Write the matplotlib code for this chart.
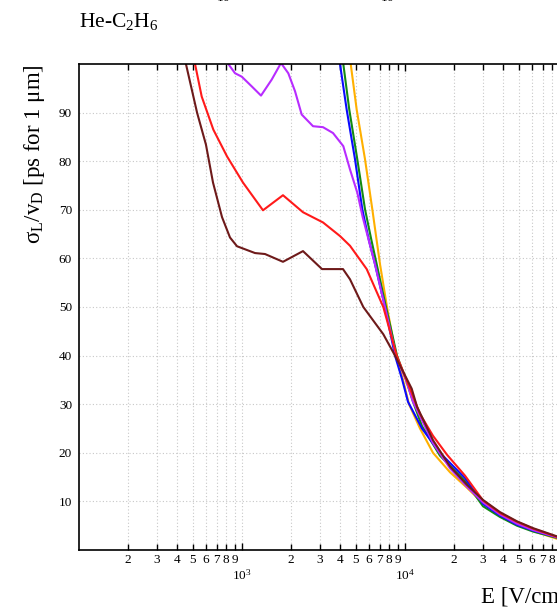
import math
import matplotlib
matplotlib.use("Agg")
import matplotlib.pyplot as plt
from matplotlib.ticker import FixedLocator, FuncFormatter, NullFormatter

plt.rcParams['font.family'] = ['Liberation Serif', 'DejaVu Serif']
plt.rcParams['mathtext.fontset'] = 'custom'
plt.rcParams['mathtext.rm'] = 'Liberation Serif'
plt.rcParams['mathtext.it'] = 'Liberation Serif:italic'

# sigma_L / v_D against drift field E, one curve per gas mixture
brown_E = [453, 530, 601, 664, 754, 844, 932, 1202, 1384, 1784, 2367, 3096, 4165, 4598, 5549,
           7359, 8683, 10993, 11846, 14852, 18885, 24013, 30100, 38254, 48650, 61000, 85600, 100000]
brown_s = [100, 90, 83.4, 75.6, 68.5, 64.3, 62.5, 61.1, 60.9, 59.3, 61.5, 57.8, 57.8, 55.7, 50,
           44.4, 40, 33.2, 29.5, 22.6, 17.2, 13.4, 10.3, 7.8, 5.9, 4.5, 2.8, 2.3]

red_E = [515, 566, 667, 809, 1014, 1345, 1784, 2367, 3140, 3992, 4598, 5821, 7359, 8894, 10732,
         12359, 14852, 18101, 23342, 30100, 38254, 48650, 61000, 85600, 100000]
red_s = [100, 93.3, 86.5, 81, 75.6, 69.9, 73, 69.5, 67.4, 64.6, 62.6, 57.8, 50, 40, 33.2,
         28, 23.5, 19.6, 15.3, 10.2, 7.6, 5.8, 4.4, 2.7, 2.3]

purple_E = [824, 906, 996, 1147, 1308, 1522, 1735, 1923, 2115, 2324, 2727, 3140, 3616, 4183, 4598,
            5100, 5500, 6546, 7537, 8806, 10141, 11197, 14852, 18885, 24013, 30100, 38254, 48650,
            61000, 85600, 100000]
purple_s = [100, 98.1, 97.4, 95.4, 93.5, 96.8, 100.2, 98.1, 94.4, 89.6, 87.2, 87.0, 85.8, 83.1, 78.3,
            73.5, 68.5, 58.8, 50, 40, 35, 30.5, 22, 16.8, 13, 9.8, 7.3, 5.4,
            4.1, 2.6, 2.1]

blue_E = [3992, 4388, 4935, 5470, 6000, 6546, 7537, 8683, 9585, 10432, 12710, 16394, 23342, 30100,
          38254, 48650, 61000, 85600, 100000]
blue_s = [100, 90.6, 80.4, 70.1, 63.8, 58.8, 50, 40, 35.2, 30.5, 25, 20, 14.8, 9.5,
          7.1, 5.2, 4.0, 2.6, 2.1]

green_E = [4183, 4552, 5097, 5684, 6200, 6705, 7644, 8930, 10141, 11197, 12710, 16394, 23342, 30100,
           38254, 48650, 61000, 85600, 100000]
green_s = [100, 90.6, 80.4, 70.1, 64.0, 58.8, 50, 40, 35, 30.5, 25.5, 19.4, 14.2, 9.0,
           6.8, 5.0, 3.8, 2.5, 2.1]

orange_E = [4644, 5054, 5684, 6302, 6650, 7026, 7755, 8806, 9721, 10580, 12359, 14852, 18885, 24013,
            30100, 38254, 48650, 61000, 85600, 100000]
orange_s = [100, 90.6, 80.4, 70.1, 64.5, 58.8, 50, 40, 35, 30, 25, 20, 16.0, 12.8,
            9.6, 7.2, 5.3, 3.9, 2.3, 1.9]

curves = [
    (orange_E, orange_s, '#ffb000'),
    (green_E, green_s, '#138a13'),
    (blue_E, blue_s, '#0a0aff'),
    (purple_E, purple_s, '#b82cff'),
    (red_E, red_s, '#ff1a1a'),
    (brown_E, brown_s, '#6e1a1a'),
]

y_ticks = [10, 20, 30, 40, 50, 60, 70, 80, 90]

fig = plt.figure(figsize=(5.57, 6.09), dpi=100)
# axes runs on past the right edge of the page
ax = fig.add_axes([79 / 557, 59 / 609, 489 / 557, 486 / 609])

for E, s, c in curves:
    ax.plot(E, s, color=c, lw=1.5, solid_joinstyle='round')

ax.set_xscale('log')
ax.set_xlim(100, 100000)
ax.set_ylim(0, 100)

ax.xaxis.set_major_locator(FixedLocator([1e3, 1e4]))
ax.xaxis.set_major_formatter(FuncFormatter(lambda v, p: r'$10^{%d}$' % round(math.log10(v))))
minor = [m * 10 ** k for k in (2, 3, 4) for m in range(2, 10)]
ax.xaxis.set_minor_locator(FixedLocator(minor))
ax.xaxis.set_minor_formatter(FuncFormatter(lambda v, p: '%d' % round(v / 10 ** int(math.log10(v)))))

ax.set_yticks(y_ticks)
ax.yaxis.set_minor_formatter(NullFormatter())

ax.grid(True, which='both', axis='x', color='#c8c8c8', ls=(0, (1, 2)), lw=0.8)
ax.grid(True, which='major', axis='y', color='#c8c8c8', ls=(0, (1, 2)), lw=0.8)

ax.tick_params(axis='x', which='both', direction='in', top=True, length=4, width=1, labelsize=9.5)
ax.tick_params(axis='x', which='minor', pad=3)
ax.tick_params(axis='x', which='major', pad=13, length=5)
ax.tick_params(axis='y', which='both', length=0, labelsize=9.5, pad=5)
for sp in ax.spines.values():
    sp.set_linewidth(1.2)

fig.text(79 / 557, 1 - 22 / 609, r'He-C$_2$H$_6$', fontsize=15.5, ha='left', va='center')
fig.text(35 / 557, 1 - 64 / 609, r'$\mathrm{\sigma_L/v_D}$ [ps for 1 μm]', fontsize=16.5,
         rotation=90, ha='center', va='top')
fig.text(481 / 557, 1 - 597 / 609, 'E [V/cm]', fontsize=16.5, ha='left', va='center')

# labels of the panel above, cut at the page edge
fig.text(226 / 557, 1 - 2 / 609, r'$10^3$', fontsize=9.5, ha='center', va='baseline')
fig.text(390 / 557, 1 - 2 / 609, r'$10^4$', fontsize=9.5, ha='center', va='baseline')

fig.savefig('out.png', dpi=100)
